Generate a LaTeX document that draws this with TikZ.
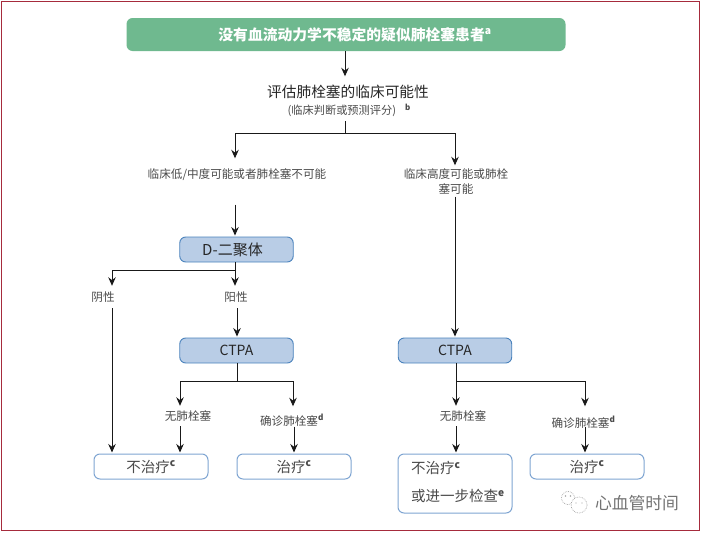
\documentclass[tikz,border=0pt]{standalone}
\usepackage{fontspec}
\setmainfont{Noto Sans CJK SC}
\usetikzlibrary{arrows.meta}

\definecolor{framered}{HTML}{A62B3C}
\definecolor{topgreen}{HTML}{6FB98F}
\definecolor{boxblue}{HTML}{B9CDE6}
\definecolor{edgeblue}{HTML}{4A82BC}
\definecolor{softblue}{HTML}{7FA5D2}
\definecolor{labelgray}{HTML}{4A4A4A}
\newcommand{\upmark}[1]{\textsuperscript{\bfseries #1}}

\begin{document}
\begin{tikzpicture}[x=1pt,y=-1pt,
  conn/.style={line width=1pt,black!90},
  arr/.style={conn,-{Stealth[length=8.5pt,width=7.5pt]},shorten >=1pt},
  testbox/.style={draw=edgeblue,line width=0.9pt,fill=boxblue,rounded corners=6pt,
    minimum width=113.5pt,minimum height=25pt,inner sep=0pt,text=black!85,
    font=\fontsize{14}{16}\selectfont},
  endbox/.style={draw=softblue,line width=1pt,fill=white,rounded corners=6pt,
    minimum width=114pt,minimum height=25pt,inner sep=0pt,text=labelgray,
    font=\fontsize{14.5}{17}\selectfont},
  note/.style={inner sep=0pt,text=labelgray,font=\fontsize{11.6}{15}\selectfont}]
  \useasboundingbox (0,0) rectangle (702,533);

  % Frame
  \draw[framered,line width=1.1pt] (1.5,1.5) rectangle (699.5,530.5);

  % Top of the chart
  \node[fill=topgreen,rounded corners=6pt,minimum width=439pt,minimum height=33pt,
    inner sep=0pt,text=white,font=\bfseries\fontsize{14.8}{17}\selectfont]
    (patient) at (346,34.5) {\hspace{18pt}没有血流动力学不稳定的疑似肺栓塞患者\upmark{a}};
  \node[inner sep=0pt,minimum height=28pt,text=black!85,font=\fontsize{14.7}{17}\selectfont]
    (assess) at (348,91.5) {评估肺栓塞的临床可能性};
  \node[note,minimum height=22pt,font=\fontsize{11.2}{13}\selectfont]
    (score) at (349,110) {(临床判断或预测评分)\hspace{9pt}\raisebox{4pt}{\footnotesize\bfseries b}};

  % Clinical probability
  \node[note,minimum height=30pt] (lowprob) at (237,174.5) {临床低/中度可能或者肺栓塞不可能};
  \node[note,align=center,minimum height=30pt,text width=112pt] (highprob) at (456,181.5)
    {临床高度可能或肺栓\\塞可能};

  % Tests
  \node[testbox] (ddimer) at (236.5,249.5) {\fontsize{15}{17}\selectfont\hspace{-8pt}D-二聚体};
  \node[note,minimum height=21pt] (negd) at (103,297.5) {阴性};
  \node[note,minimum height=21pt] (posd) at (236,297.5) {阳性};
  \node[testbox] (ctpaleft) at (236.5,350.5) {CTPA};
  \node[testbox] (ctparight) at (455,350.5) {CTPA};

  % Results of CTPA
  \node[note,minimum height=19pt] (nopeleft) at (188,416.5) {无肺栓塞};
  \node[note,minimum height=19pt] (peleft) at (292,417) {\raisebox{-8pt}[0pt][0pt]{确诊肺栓塞\upmark{d}}};
  \node[note,minimum height=19pt] (noperight) at (463,416.5) {无肺栓塞};
  \node[note,minimum height=19pt] (peright) at (583.5,417) {\raisebox{-10pt}[0pt][0pt]{确诊肺栓塞\upmark{d}}};

  % End points
  \node[endbox] (notxleft) at (151,466.5) {不治疗\upmark{c}};
  \node[endbox] (txleft) at (294,466.5) {治疗\upmark{c}};
  \node[endbox,minimum height=59pt,inner xsep=13pt,text width=88pt,align=left,
    font=\fontsize{14.5}{28}\selectfont] (notxright) at (455,483.5)
    {不治疗\upmark{c}\\或进一步检查\rlap{\upmark{e}}\\[-24pt]\mbox{}};
  \node[endbox] (txright) at (587,466.5) {治疗\upmark{c}};

  % Split points
  \coordinate (splitprob) at (345,133);
  \coordinate (probleft) at (235,133);
  \coordinate (probright) at (455,133);
  \coordinate (splitd) at (235,270);
  \coordinate (dleft) at (112,270);
  \coordinate (ctleft) at (237,381);
  \coordinate (ctlefta) at (180,381);
  \coordinate (ctleftb) at (293,381);
  \coordinate (ctright) at (456,381);
  \coordinate (ctrighta) at (585,381);

  % Connectors
  \draw[arr] (patient.south -| splitprob) -- (assess.north -| splitprob);
  \draw[conn] (score.south -| splitprob) -- (splitprob);
  \draw[arr] (splitprob) -- (probleft) -- (lowprob.north -| probleft);
  \draw[arr] (splitprob) -- (probright) -- (highprob.north -| probright);
  \draw[arr] (lowprob.south -| probleft) ++(0,15) -- (ddimer.north -| probleft);
  \draw[arr] (highprob.south -| probright) -- (ctparight.north -| probright);

  \draw[arr] (ddimer.south -| splitd) -- (posd.north -| splitd);
  \draw[arr] (splitd) -- (dleft) -- (negd.north -| dleft);
  \draw[arr] (negd.south -| dleft) -- (notxleft.north -| dleft);
  \draw[arr] (posd.south -| ctleft) -- (ctpaleft.north -| ctleft);

  \draw[conn] (ctpaleft.south -| ctleft) -- (ctleft);
  \draw[arr] (ctleft) -- (ctlefta) -- (nopeleft.north -| ctlefta);
  \draw[arr] (ctleft) -- (ctleftb) -- (peleft.north -| ctleftb);
  \draw[arr] (nopeleft.south -| ctlefta) -- (notxleft.north -| ctlefta);
  \draw[arr] (peleft.south -| txleft) -- (txleft.north);

  \draw[conn] (ctparight.south -| ctright) -- (ctright);
  \draw[arr] (ctright) -- (noperight.north -| ctright);
  \draw[arr] (ctright) -- (ctrighta) -- (peright.north -| ctrighta);
  \draw[arr] (noperight.south -| ctright) -- (notxright.north -| ctright);
  \draw[arr] (peright.south -| ctrighta) -- (txright.north -| ctrighta);

  % Watermark
  \begin{scope}[gray!70,line width=0.7pt,densely dotted]
    \draw (568,498) circle (6.5);
    \draw[fill=white] (579,505) circle (8);
  \end{scope}
  \fill[gray!70] (565.5,496) circle (0.8) (570.5,496) circle (0.8)
    (576,503) circle (0.7) (582,503) circle (0.7);
  \node[inner sep=0pt,text=gray!90!black,font=\fontsize{16.8}{20}\selectfont]
    (mark) at (637,503) {心血管时间};
\end{tikzpicture}
\end{document}
